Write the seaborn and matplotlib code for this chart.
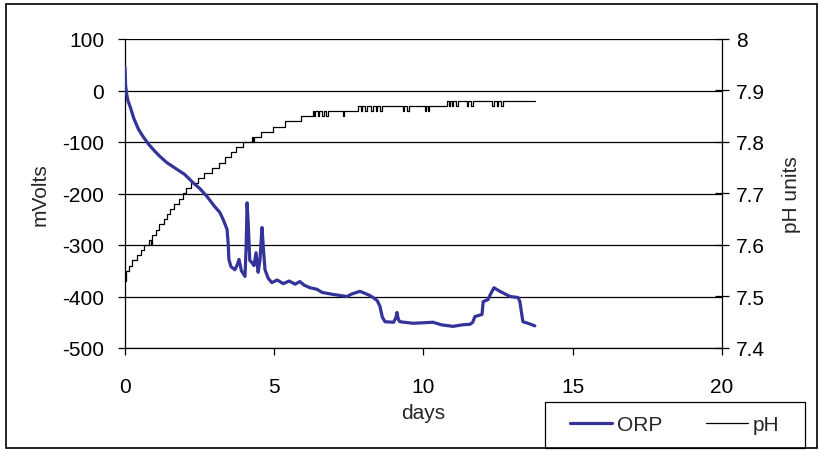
import matplotlib
matplotlib.use("Agg")
import matplotlib.pyplot as plt
from matplotlib.lines import Line2D
from matplotlib.patches import Rectangle
import seaborn as sns
import pandas as pd

# ---- data ----
orp_days = [0.0, 0.02, 0.05, 0.1, 0.17, 0.3, 0.45, 0.6, 0.8, 1.0, 1.17, 1.4, 1.74, 2.0,
            2.28, 2.5, 2.75, 3.0, 3.18, 3.3, 3.42, 3.46, 3.48, 3.55, 3.68, 3.75, 3.82,
            3.9, 4.02, 4.06, 4.09, 4.13, 4.18, 4.25, 4.32, 4.39, 4.46, 4.52, 4.59, 4.64,
            4.69, 4.8, 4.92, 5.1, 5.3, 5.5, 5.7, 5.86, 6.0, 6.2, 6.43, 6.6, 6.97, 7.2,
            7.44, 7.6, 7.87, 8.0, 8.2, 8.31, 8.45, 8.54, 8.62, 8.71, 9.0, 9.08, 9.11,
            9.16, 9.21, 9.65, 10.0, 10.32, 10.6, 10.99, 11.3, 11.56, 11.65, 11.72,
            11.96, 12.0, 12.16, 12.25, 12.36, 12.56, 12.9, 13.17, 13.23, 13.28, 13.33,
            13.5, 13.73]
orp_mv = [45, 10, -5, -20, -31, -55, -75, -89, -105, -118, -128, -140, -153, -163,
          -179, -190, -206, -225, -237, -252, -270, -300, -328, -342, -348, -340, -328,
          -350, -361, -300, -218, -260, -330, -334, -340, -315, -353, -330, -266, -310,
          -348, -365, -373, -368, -375, -370, -376, -371, -378, -383, -386, -392, -396,
          -398, -400, -395, -390, -393, -398, -402, -408, -419, -440, -449, -450, -440,
          -431, -445, -449, -452, -451, -450, -455, -458, -455, -454, -450, -439,
          -435, -410, -406, -395, -383, -390, -400, -402, -410, -430, -449,
          -452, -457]

ph_days = [0.0, 0.05, 0.15, 0.25, 0.4, 0.52, 0.65, 0.8, 0.88, 0.9, 0.92, 1.05, 1.15,
           1.3, 1.42, 1.52, 1.65, 1.8, 1.95, 2.05, 2.2, 2.45, 2.65, 2.9, 3.15, 3.35,
           3.55, 3.72, 3.95, 4.25, 4.3, 4.33, 4.55, 4.95, 5.35, 5.9, 6.3, 6.34, 6.38,
           6.45, 6.5, 6.6, 6.65, 6.75, 6.8, 7.3, 7.35, 7.8, 7.9, 7.95, 8.05, 8.1,
           8.25, 8.3, 8.4, 8.45, 8.55, 8.6, 9.3, 9.35, 9.45, 9.5, 10.05, 10.1,
           10.15, 10.2, 10.8, 10.85, 10.9, 10.95, 11.0, 11.1, 11.15, 11.45, 11.5,
           11.6, 11.65, 12.3, 12.35, 12.45, 12.5, 12.6, 12.65, 13.73]
ph_val = [7.53, 7.55, 7.56, 7.57, 7.58, 7.59, 7.60, 7.61, 7.60, 7.61, 7.62, 7.63, 7.64,
          7.65, 7.66, 7.67, 7.68, 7.69, 7.70, 7.71, 7.72, 7.73, 7.74, 7.75, 7.76, 7.77,
          7.78, 7.79, 7.80, 7.81, 7.80, 7.81, 7.82, 7.83, 7.84, 7.85, 7.86, 7.85, 7.86,
          7.85, 7.86, 7.85, 7.86, 7.85, 7.86, 7.85, 7.86, 7.87, 7.86, 7.87, 7.86, 7.87,
          7.86, 7.87, 7.86, 7.87, 7.86, 7.87, 7.86, 7.87, 7.86, 7.87, 7.86, 7.87,
          7.86, 7.87, 7.88, 7.87, 7.88, 7.87, 7.88, 7.87, 7.88, 7.87, 7.88,
          7.87, 7.88, 7.87, 7.88, 7.87, 7.88, 7.87, 7.88, 7.88]

x_ticks = [0, 5, 10, 15, 20]
mv_ticks = [100, 0, -100, -200, -300, -400, -500]
ph_ticks = [7.4, 7.5, 7.6, 7.7, 7.8, 7.9, 8.0]
ph_tick_labels = ["7.4", "7.5", "7.6", "7.7", "7.8", "7.9", "8"]

orp_df = pd.DataFrame({"days": orp_days, "mV": orp_mv})
ph_df = pd.DataFrame({"days": ph_days, "pH": ph_val})

# ---- style ----
sns.set_style("white")
plt.rcParams["font.family"] = ["Liberation Sans", "DejaVu Sans"]
plt.rcParams["axes.unicode_minus"] = False
FS = 15

fig = plt.figure(figsize=(8.2, 4.52), dpi=100)
ax = fig.add_axes([125/820, 1-349/452, (722-125)/820, (349-40)/452])
ax2 = ax.twinx()

ax.set_zorder(2)
ax.patch.set_visible(False)

for y in mv_ticks:
    ax.axhline(y, color="black", lw=0.9, zorder=0)

sns.lineplot(data=orp_df, x="days", y="mV", ax=ax, color="#333399", lw=2.3,
             sort=False, estimator=None, zorder=3)
sns.lineplot(data=ph_df, x="days", y="pH", ax=ax2, color="black", lw=0.9,
             drawstyle="steps-post", sort=False, estimator=None, zorder=2)

ax.set_xlim(0, 20)
ax.set_ylim(-500, 100)
ax2.set_ylim(7.4, 8.0)
ax.set_xticks(x_ticks)
ax.set_yticks(mv_ticks)
ax2.set_yticks(ph_ticks)
ax2.set_yticklabels(ph_tick_labels)

for a in (ax, ax2):
    for s in a.spines.values():
        s.set_visible(False)
ax.spines["left"].set_visible(True)
ax.spines["bottom"].set_visible(True)
ax2.spines["right"].set_visible(True)
for s in ("left", "bottom"):
    ax.spines[s].set_color("black"); ax.spines[s].set_linewidth(0.9)
ax2.spines["right"].set_color("black"); ax2.spines["right"].set_linewidth(0.9)

ax.tick_params(axis="y", direction="out", length=5, width=0.9, labelsize=FS, pad=10,
               left=True, colors="black")
ax.tick_params(axis="x", direction="out", length=5, width=0.9, labelsize=FS, pad=16,
               bottom=True, colors="black")
ax2.tick_params(axis="y", direction="inout", length=10, width=0.9, labelsize=FS, pad=5,
                right=True, colors="black")

ax.set_xlabel("days", fontsize=FS, labelpad=5)
ax.set_ylabel("mVolts", fontsize=FS, labelpad=9)
ax2.set_ylabel("pH units", fontsize=FS, labelpad=12)

# legend box
fig.patches.append(Rectangle((545/820, 1-449/452), 260/820, 46/452,
                             transform=fig.transFigure, fill=False,
                             edgecolor="black", lw=0.9))
handles = [Line2D([], [], color="#333399", lw=2.3), Line2D([], [], color="black", lw=0.9)]
leg = fig.legend(handles, ["ORP", "pH"], loc="center",
                 bbox_to_anchor=(675/820, 1-426/452),
                 ncol=2, fontsize=FS, frameon=False, handlelength=2.0,
                 handletextpad=0.25, columnspacing=2.1, borderaxespad=0, borderpad=0)

fig.patches.append(Rectangle((6/820, 1-449/452), (817-6)/820, (449-5)/452,
                             transform=fig.transFigure, fill=False,
                             edgecolor="black", lw=1.2))

fig.savefig("out.png", dpi=100)
